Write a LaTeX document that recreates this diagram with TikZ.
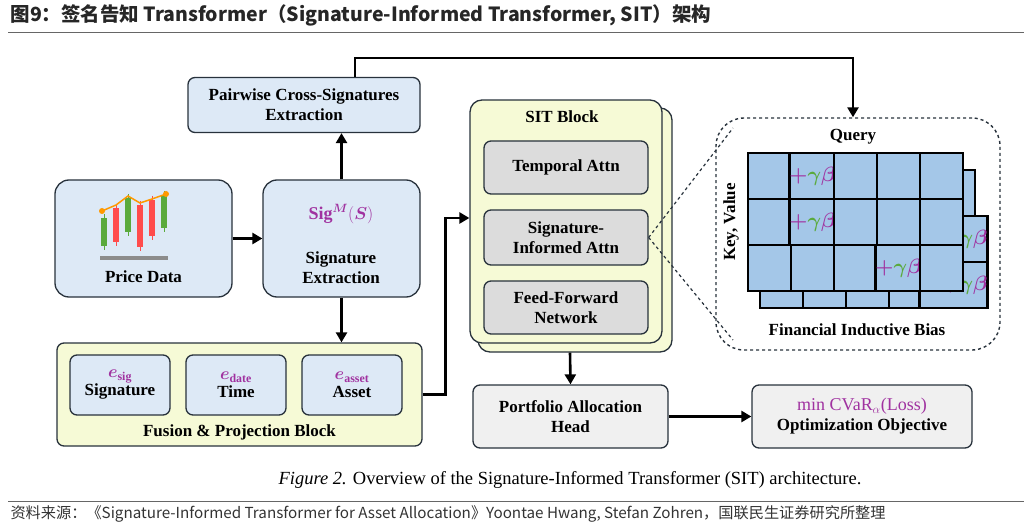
\documentclass[tikz,border=0pt]{standalone}
\usepackage{amsmath,bm}
\usepackage{fontspec}
\setmainfont{Liberation Serif}
\newfontfamily\cjk{Noto Sans CJK SC}
\usetikzlibrary{positioning,arrows.meta}
\definecolor{boxblue}{RGB}{221,233,246}
\definecolor{boxyellow}{RGB}{246,250,214}
\definecolor{boxgray}{RGB}{220,220,220}
\definecolor{cellblue}{RGB}{164,199,232}
\definecolor{sigmag}{RGB}{160,50,160}
\definecolor{gamgreen}{RGB}{90,170,60}
\definecolor{edge}{RGB}{40,50,60}
\newcommand{\gb}{{\color{sigmag}$\bm{+}$}{\color{gamgreen}$\bm\gamma$}{\color{sigmag}$\bm\beta$}}
\tikzset{
  blk/.style={draw=edge, line width=1.3pt, rounded corners=7pt, fill=boxblue, align=center,
    font=\fontsize{17}{20}\selectfont\bfseries, inner sep=0pt},
  ylw/.style={blk, fill=boxyellow},
  gry/.style={blk, fill=boxgray},
  lbl/.style={font=\fontsize{17}{20}\selectfont\bfseries, align=center},
  flow/.style={line width=2.6pt, -{Triangle[length=10pt,width=11pt]}},
  cell/.style={draw=black, line width=2.2pt, fill=cellblue, minimum width=43pt, minimum height=46pt, inner sep=0pt, font=\fontsize{20}{20}\selectfont},
}
\begin{document}
\begin{tikzpicture}[x=1pt,y=-1pt]
\useasboundingbox (0,0) rectangle (1032,529);
% header and footer
\node[anchor=west, font=\cjk\fontsize{19.5}{21}\selectfont\bfseries, text=black!85] (title) at (7,15)
  {图9：签名告知 Transformer（Signature-Informed Transformer, SIT）架构};
\draw[black!60, line width=0.6pt] (8,32) -- (1024,32);
\draw[black!60, line width=0.6pt] (8,501) -- (1024,501);
\node[anchor=west, font=\cjk\fontsize{15.2}{16}\selectfont, text=black!80] (source) at (7,514)
  {资料来源：《Signature-Informed Transformer for Asset Allocation》Yoontae Hwang, Stefan Zohren，国联民生证券研究所整理};
\node[font=\fontsize{18.5}{20}\selectfont] (caption) at (570,480)
  {\textit{Figure 2.} Overview of the Signature-Informed Transformer (SIT) architecture.};

% left column
\node[blk, minimum width=232pt, minimum height=55pt] (pair) at (304,105) {Pairwise Cross-Signatures\\Extraction};
\node[blk, minimum width=177pt, minimum height=117pt, rounded corners=14pt] (price) at (143.5,238.5) {};
\node[lbl] (pricelbl) at (143.5,277) {Price Data};
% candle icon
\foreach \x/\lo/\hi/\c in {104/218/246/gamgreen,116/208/242/red!70,128/198/232/gamgreen,140/205/247/red!70,152/200/236/red!70,164/195/228/gamgreen}{
  \draw[\c, line width=1pt] (\x,\lo-4) -- (\x,\hi+4);
  \fill[\c] (\x-3,\lo) rectangle (\x+3,\hi);
}
\draw[orange!80!yellow, line width=1.5pt] (102,211) -- (116,205) -- (128,196) -- (140,203) -- (152,199) -- (166,194);
\fill[orange!80!yellow] (102,211) circle (3) (166,194) circle (3);
\fill[black!45] (100,256) rectangle (168,260);
\node[blk, minimum width=157pt, minimum height=117pt, rounded corners=14pt] (sig) at (341.5,238.5) {};
\node[text=sigmag, font=\fontsize{18}{20}\selectfont\bfseries] (siglbl) at (341,214) {Sig$^{\bm{M}}(\bm{S})$};
\node[lbl] (sigtxt) at (341,268) {Signature\\Extraction};

% fusion block
\node[ylw, minimum width=365pt, minimum height=103pt] (fusion) at (239.5,394.5) {};
\node[lbl] (fusionlbl) at (239.5,432) {Fusion \& Projection Block};
\foreach \n/\x/\s/\t in {esig/120/sig/Signature,edate/236/date/Time,easset/352/asset/Asset}{
  \node[blk, minimum width=100pt, minimum height=60pt] (\n) at (\x,385)
    {{\color{sigmag}$\bm{e}_{\mathbf{\s}}$}\\[-2pt]\t};
}

% SIT block
\node[ylw, minimum width=194pt, minimum height=244pt, rounded corners=12pt] (sitback) at (575,230) {};
\node[ylw, minimum width=192pt, minimum height=243pt, rounded corners=12pt] (sit) at (566,221.5) {};
\node[lbl] (sitlbl) at (562,117) {SIT Block};
\node[gry, minimum width=164pt, minimum height=53pt] (temp) at (566,167.5) {Temporal Attn};
\node[gry, minimum width=164pt, minimum height=55pt] (sia) at (566,237.5) {Signature-\\Informed Attn};
\node[gry, minimum width=164pt, minimum height=53pt] (ffn) at (566,307.5) {Feed-Forward\\Network};
\node[gry, fill=black!6, minimum width=195pt, minimum height=63pt] (head) at (570.5,416.5) {Portfolio Allocation\\Head};
\node[gry, fill=black!6, minimum width=220pt, minimum height=63pt] (opt) at (862,416.5)
  {{\color{sigmag}\mdseries\fontsize{18}{20}\selectfont min CVaR$_\alpha$(Loss)}\\Optimization Objective};

% inductive bias panel
\node[draw=edge, dashed, line width=1.4pt, rounded corners=28pt, minimum width=284pt, minimum height=232pt] (bias) at (858,234) {};
\node[lbl] (query) at (853,137) {Query};
\node[lbl, rotate=90] (kv) at (731,222) {Key, Value};
\node[lbl] (biaslbl) at (857,330) {Financial Inductive Bias};
\foreach \r in {0,1,2}{\foreach \c in {0,...,4}{
  \node[cell] (b\r\c) at (781.5+\c*43,193+\r*46) {\ifnum\c=4\ifnum\r>0\hspace{22pt}\gb\fi\fi};
}}
\foreach \r/\c/\g in {0/0/0,0/1/1,0/2/0,0/3/0,0/4/0,1/0/0,1/1/1,1/2/0,1/3/0,1/4/0,2/0/0,2/1/0,2/2/0,2/3/1,2/4/0}{
  \node[cell] (f\r\c) at (769.5+\c*43,176+\r*46) {\ifnum\g=1\gb\fi};
}
\draw[edge, dashed, line width=1.2pt] (sia.east) -- (733,128);
\draw[edge, dashed, line width=1.2pt] (sia.east) -- (733,340);

% connectors
\draw[flow] (price.east) -- (sig.west);
\draw[flow] (sig.north) -- (pair.south -| sig.north);
\draw[flow] (sig.south) -- (fusion.north -| sig.south);
\draw[flow] (fusion.east) -- ++(23,0) |- (sit.west |- 0,218);
\draw[flow] (pair.north -| 355,0) |- (853,58) -- (bias.north -| 853,0);
\draw[flow] (sitback.south -| 570,0) -- (head.north);
\draw[flow] (head.east) -- (opt.west);
\end{tikzpicture}
\end{document}
